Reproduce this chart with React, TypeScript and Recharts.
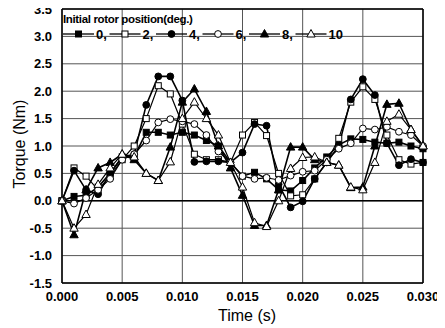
import React from 'react';
import { LineChart, Line, XAxis, YAxis, CartesianGrid, ReferenceLine, Label } from 'recharts';

const time = [0.0, 0.001, 0.002, 0.003, 0.004, 0.005, 0.006, 0.007, 0.008, 0.009, 0.01, 0.011, 0.012, 0.013, 0.014, 0.015, 0.016, 0.017, 0.018, 0.019, 0.02, 0.021, 0.022, 0.023, 0.024, 0.025, 0.026, 0.027, 0.028, 0.029, 0.03];

const s0 = [0.0, 0.08, 0.1, 0.25, 0.5, 0.8, 0.8, 1.25, 1.25, 1.2, 1.25, 1.2, 1.1, 1.0, 0.7, 0.45, 0.52, 0.4, 0.2, 0.18, 0.37, 0.6, 0.8, 1.02, 1.13, 1.12, 1.07, 1.05, 1.07, 1.0, 0.95];
const s2 = [0.0, 0.6, 0.45, 0.2, 0.45, 0.75, 1.0, 1.5, 2.1, 1.95, 1.4, 0.85, 0.75, 0.75, 0.7, 1.2, 1.43, 1.19, 0.5, 0.09, 0.11, 0.4, 0.7, 1.14, 1.8, 2.08, 1.85, 1.2, 0.75, 0.67, 0.7];
const s4 = [0.0, 0.55, 0.2, 0.12, 0.5, 0.8, 0.85, 1.75, 2.27, 2.27, 1.83, 0.71, 0.72, 0.72, 0.7, 0.88, 1.4, 1.37, 0.3, -0.12, -0.01, 0.4, 0.7, 1.0, 1.85, 2.22, 1.93, 1.05, 0.65, 0.76, 0.7];
const s6 = [0.0, -0.05, 0.05, 0.2, 0.4, 0.75, 0.85, 1.1, 1.43, 1.49, 1.45, 1.4, 1.2, 0.9, 0.7, 0.45, 0.4, 0.42, 0.38, 0.46, 0.53, 0.55, 0.75, 0.95, 1.05, 1.32, 1.3, 1.35, 1.26, 1.2, 1.0];
const s8 = [0.0, -0.62, 0.2, 0.6, 0.7, 0.85, 0.75, 0.5, 0.37, 0.98, 1.8, 2.04, 1.63, 1.0, 0.6, 0.1, -0.45, -0.45, 0.2, 0.98, 0.98, 0.75, 0.7, 0.65, 0.24, 0.25, 1.0, 1.76, 1.78, 1.3, 1.0];
const s10 = [0.0, -0.5, -0.25, 0.3, 0.6, 0.85, 0.8, 0.5, 0.37, 0.71, 1.5, 1.8, 1.5, 1.2, 0.7, 0.25, -0.4, -0.47, 0.0, 0.59, 0.79, 0.8, 0.7, 0.65, 0.25, 0.2, 0.7, 1.45, 1.58, 1.3, 1.0];

const xTicks = [0, 0.005, 0.01, 0.015, 0.02, 0.025, 0.03];
const yTicks = [-1.5, -1.0, -0.5, 0.0, 0.5, 1.0, 1.5, 2.0, 2.5, 3.0, 3.5];

const legendTitle = 'Initial rotor position(deg.)';
const seriesNames = ['0', '2', '4', '6', '8', '10'];
const seriesShapes = ['square', 'square', 'circle', 'circle', 'triangle', 'triangle'];
const seriesFilled = [true, false, true, false, true, false];
const seriesValues = [s0, s2, s4, s6, s8, s10];

const data = time.map((t, i) => {
  const row: any = { t };
  seriesValues.forEach((vals, k) => {
    row['s' + k] = vals[i];
  });
  return row;
});

const FONT = '"Liberation Sans", Arial, sans-serif';

function Marker({ cx, cy, shape, filled }: { cx: number; cy: number; shape: string; filled: boolean }) {
  const fill = filled ? '#000' : '#fff';
  if (cx == null || cy == null) return null;
  if (shape === 'square') {
    return <rect x={cx - 3} y={cy - 3} width={6} height={6} fill={fill} stroke="#000" strokeWidth={1} />;
  }
  if (shape === 'circle') {
    return <circle cx={cx} cy={cy} r={3.4} fill={fill} stroke="#000" strokeWidth={1} />;
  }
  return (
    <polygon
      points={`${cx},${cy - 4.5} ${cx - 4.2},${cy + 3} ${cx + 4.2},${cy + 3}`}
      fill={fill}
      stroke="#000"
      strokeWidth={1}
    />
  );
}

const makeDot = (k: number) => (p: any) => (
  <Marker key={`d${k}-${p.index}`} cx={p.cx} cy={p.cy} shape={seriesShapes[k]} filled={seriesFilled[k]} />
);

const XTick = (p: any) => (
  <text x={p.x} y={p.y + 10} textAnchor="middle" fontFamily={FONT} fontSize={13} fontWeight="bold" fill="#000">
    {Number(p.payload.value).toFixed(3)}
  </text>
);

const YTick = (p: any) => (
  <text x={p.x} y={p.y + 4.5} textAnchor="end" fontFamily={FONT} fontSize={13} fontWeight="bold" fill="#000">
    {Number(p.payload.value).toFixed(1)}
  </text>
);

function LegendOverlay() {
  const pitch = 46.5;
  return (
    <svg width={300} height={44} style={{ position: 'absolute', left: 62, top: 10 }}>
      <text x={1} y={13} fontFamily={FONT} fontSize={11.5} fontWeight="bold" fill="#000" letterSpacing={-0.35}>
        {legendTitle}
      </text>
      {seriesNames.map((n, k) => {
        const x0 = 1 + k * pitch;
        const isLast = k === seriesNames.length - 1;
        return (
          <g key={n}>
            <line x1={x0} x2={x0 + 31} y1={24} y2={24} stroke="#000" strokeWidth={1.3} />
            <Marker cx={x0 + 15.5} cy={24} shape={seriesShapes[k]} filled={seriesFilled[k]} />
            <text x={x0 + 33} y={28.5} fontFamily={FONT} fontSize={13} fontWeight="bold" fill="#000">
              {isLast ? n : n + ','}
            </text>
          </g>
        );
      })}
    </svg>
  );
}

export default function App() {
  return (
    <div style={{ position: 'relative', width: 445, height: 328, margin: '-8px 0 0 -8px', background: '#fff' }}>
      <LineChart width={445} height={328} data={data} margin={{ top: 9, right: 22, bottom: 0, left: 0 }}>
        <CartesianGrid stroke="#555" strokeWidth={1} />
        <XAxis
          dataKey="t"
          type="number"
          domain={[0, 0.03]}
          ticks={xTicks}
          height={45}
          tickLine={false}
          tickMargin={2}
          axisLine={{ stroke: '#000', strokeWidth: 1.5 }}
          tick={<XTick />}
          interval={0}
        >
          <Label
            content={() => (
              <text x={247} y={321} textAnchor="middle" fontFamily={FONT} fontSize={16} fill="#000">
                Time (s)
              </text>
            )}
          />
        </XAxis>
        <YAxis
          type="number"
          domain={[-1.5, 3.5]}
          ticks={yTicks}
          width={62}
          tickLine={false}
          tickMargin={4}
          axisLine={{ stroke: '#000', strokeWidth: 1.5 }}
          tick={<YTick />}
          interval={0}
          allowDataOverflow
        >
          <Label
            content={() => (
              <text
                x={25}
                y={144}
                transform="rotate(-90 25 144)"
                textAnchor="middle"
                fontFamily={FONT}
                fontSize={16}
                fill="#000"
              >
                Torque (Nm)
              </text>
            )}
          />
        </YAxis>
        <ReferenceLine y={0} stroke="#000" strokeWidth={1.5} />
        <ReferenceLine y={3.5} stroke="#000" strokeWidth={1.5} />
        <ReferenceLine x={0.03} stroke="#000" strokeWidth={1.5} />
        {seriesValues.map((_, k) => (
          <Line
            key={k}
            dataKey={'s' + k}
            name={seriesNames[k]}
            type="linear"
            stroke="#000"
            strokeWidth={seriesFilled[k] ? 1.6 : 1.2}
            dot={makeDot(k)}
            activeDot={false}
            isAnimationActive={false}
          />
        ))}
      </LineChart>
      <LegendOverlay />
    </div>
  );
}
